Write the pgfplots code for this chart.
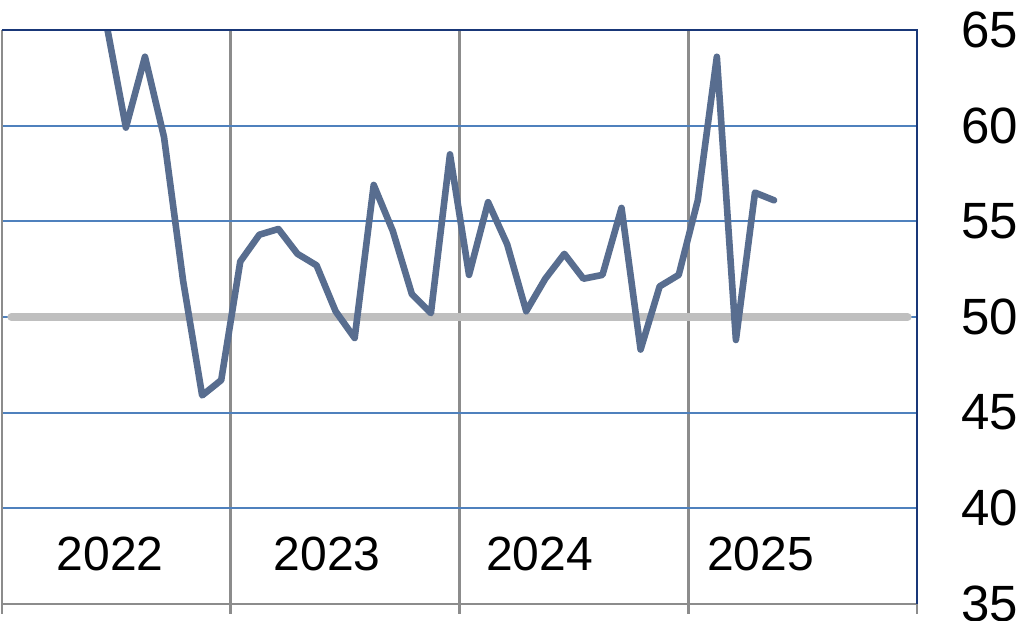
\documentclass[border=0pt]{standalone}
\usepackage{pgfplots}
\pgfplotsset{compat=1.18}
\usepackage{fontspec}
\setmainfont{Liberation Sans}
\definecolor{linec}{RGB}{88,109,143}
\definecolor{gridblue}{RGB}{79,129,189}
\definecolor{navy}{RGB}{25,55,120}
\definecolor{vgray}{RGB}{140,140,140}
\definecolor{fiftygray}{RGB}{191,191,191}
\begin{document}
\begin{tikzpicture}
\begin{axis}[
  at={(1pt,8.5pt)}, anchor=south west,
  width=457.5pt, height=287pt, scale only axis,
  xmin=0, xmax=48, ymin=35, ymax=65,
  axis line style={draw=none},
  xtick={0,12,24,36,48}, xticklabels={},
  xtick pos=bottom, tick align=outside,
  major tick length=5pt,
  x tick style={vgray, line width=1.3pt},
  xmajorgrids, x grid style={vgray, line width=1.3pt},
  ytick={35,40,45,50,55,60,65},
  ymajorgrids, y grid style={gridblue, line width=1pt},
  y tick style={draw=none},
  yticklabel pos=right,
  yticklabel style={anchor=west, inner sep=0pt, xshift=17pt},
  tick label style={font=\fontsize{25.5}{30}\selectfont},
  /pgf/number format/assume math mode=true,
  clip mode=individual,
]
\addplot[fiftygray, line width=4.2pt, line cap=round] coordinates {(0.5,50) (47.5,50)};
\addplot[linec, line width=3.3pt, line join=round, line cap=round] coordinates {
(5.5,65.2) (6.5,59.9) (7.5,63.6) (8.5,59.4) (9.5,51.9) (10.5,45.9) (11.5,46.7)
(12.5,52.9) (13.5,54.3) (14.5,54.6) (15.5,53.3) (16.5,52.7) (17.5,50.3)
(18.5,48.9) (19.5,56.9) (20.5,54.5) (21.5,51.2) (22.5,50.2) (23.5,58.5)
(24.5,52.2) (25.5,56.0) (26.5,53.8) (27.5,50.3) (28.5,52.0) (29.5,53.3)
(30.5,52.0) (31.5,52.2) (32.5,55.7) (33.5,48.3) (34.5,51.6) (35.5,52.2)
(36.5,56.1) (37.5,63.6) (38.5,48.8) (39.5,56.5) (40.5,56.1)
};
\draw[vgray, line width=1.3pt] (rel axis cs:0,0) -- (rel axis cs:0,1);
\draw[vgray, line width=1.3pt] (rel axis cs:0,0) -- (rel axis cs:1,0);
\draw[navy, line width=1.2pt] (rel axis cs:0,1) -- (rel axis cs:1,1) -- (rel axis cs:1,0);
\node[font=\fontsize{24}{28}\selectfont] at (axis cs:5.67,37.6) {2022};
\node[font=\fontsize{24}{28}\selectfont] at (axis cs:17.05,37.6) {2023};
\node[font=\fontsize{24}{28}\selectfont] at (axis cs:28.2,37.6) {2024};
\node[font=\fontsize{24}{28}\selectfont] at (axis cs:39.8,37.6) {2025};
\end{axis}
\pgfresetboundingbox
\path[use as bounding box] (0,0) rectangle (512pt,310.5pt);
\end{tikzpicture}
\end{document}
